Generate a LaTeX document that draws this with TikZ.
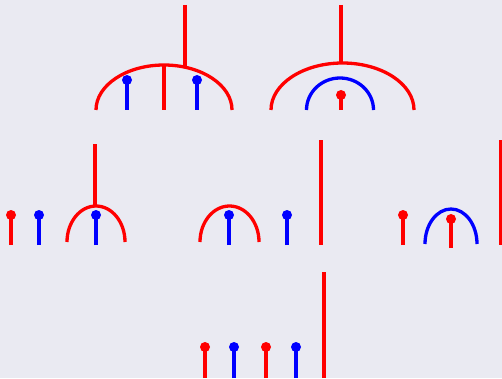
\documentclass[tikz,border=0pt]{standalone}
\usepackage{tikz}
\usetikzlibrary{calc}
\definecolor{paneback}{RGB}{234, 234, 242}
\definecolor{wirered}{RGB}{255, 0, 0}
\definecolor{wireblue}{RGB}{0, 0, 255}

\tikzset{
  wire/.style={line width=3.3pt},
  pinline/.style={line width=3.2pt},
}
% a pin: stem from (x,bottom) up to a dot at (x,top)
\newcommand{\pinat}[4]{%
  \draw[pinline, #1] (#2,#4) -- (#2,#3);
  \fill[#1] (#2,#3) circle[radius=5];
}

\begin{document}
\begin{tikzpicture}[x=1pt, y=1pt]
  \fill[paneback] (0,0) rectangle (502,378);
  \useasboundingbox (0,0) rectangle (502,378);

  % top left: big red arc with two blue pins
  \draw[wire, wirered] (96,268) arc[start angle=180, end angle=0, x radius=68, y radius=45];
  \draw[wire, wirered] (164,268) -- (164,313);
  \coordinate (stemA) at (185,311);
  \draw[wire, wirered] (185,373) -- (stemA);
  \pinat{wireblue}{127}{298}{268}
  \pinat{wireblue}{197}{298}{268}

  % top right: red arc over blue arc over red pin
  \draw[wire, wirered] (271,268) arc[start angle=180, end angle=0, x radius=71.5, y radius=47];
  \coordinate (stemB) at (341,315);
  \draw[wire, wirered] (341,373) -- (stemB);
  \draw[wire, wireblue] (306.5,268) arc[start angle=180, end angle=0, x radius=33.5, y radius=32];
  \pinat{wirered}{341}{283}{268}

  % middle row, first group
  \pinat{wirered}{11}{163}{133}
  \pinat{wireblue}{39}{163}{133}
  \draw[wire, wirered] (67,136) arc[start angle=180, end angle=0, x radius=29, y radius=36];
  \coordinate (stemC) at (95,172);
  \draw[wire, wirered] (95,234) -- (stemC);
  \pinat{wireblue}{96}{163}{133}

  % middle row, second group
  \draw[wire, wirered] (200,136) arc[start angle=180, end angle=0, x radius=29.5, y radius=36];
  \pinat{wireblue}{229}{163}{133}
  \pinat{wireblue}{287}{163}{133}
  \draw[wire, wirered] (321,238) -- (321,133);

  % middle row, third group
  \pinat{wirered}{403}{163}{133}
  \draw[wire, wireblue] (425,134) arc[start angle=180, end angle=0, x radius=26, y radius=35];
  \pinat{wirered}{451}{159}{130}
  \draw[wire, wirered] (501,238) -- (501,133);

  % bottom row
  \foreach \px/\col in {205/wirered, 234/wireblue, 266/wirered, 296/wireblue} {
    \pinat{\col}{\px}{31}{0}
  }
  \draw[wire, wirered] (324,106) -- (324,0);
\end{tikzpicture}
\end{document}
